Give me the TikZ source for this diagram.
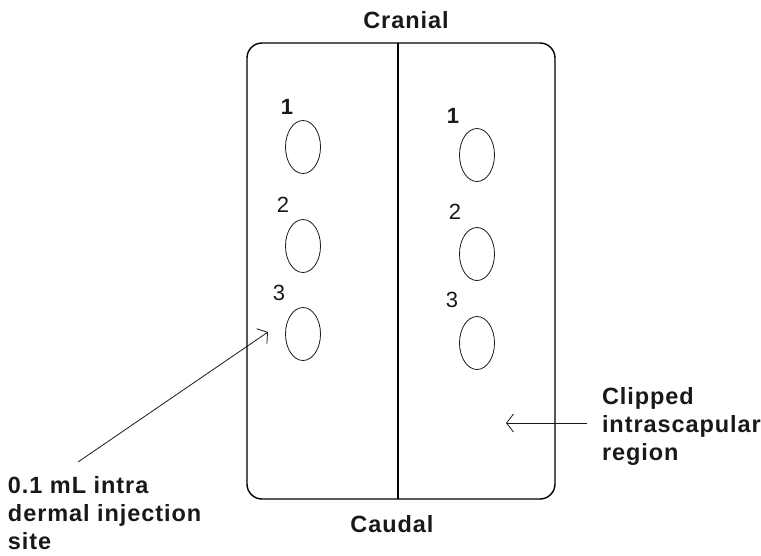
\documentclass[tikz,border=0pt]{standalone}
\usepackage{fontspec}
\setmainfont{Liberation Sans}
\usetikzlibrary{arrows.meta,shapes.geometric}
\begin{document}
\begin{tikzpicture}[x=1pt,y=-1pt,
  every node/.style={inner sep=0pt,outer sep=0pt},
  lbltext/.style={font=\bfseries\addfontfeature{LetterSpace=4}\fontsize{23.5}{28}\selectfont,text=black!90,align=left},
  numtext/.style={font=\fontsize{22}{22}\selectfont,text=black!90},
  numbold/.style={font=\bfseries\fontsize{22}{22}\selectfont,text=black!90},
  site/.style={draw=black!90,line width=0.8pt,ellipse,minimum width=35pt,minimum height=53pt},
  pointer/.style={draw=black!90,line width=0.8pt,-{Straight Barb[length=7pt,width=18pt]}}]
\useasboundingbox (0,0) rectangle (761,555);
% body outline
\draw[line width=1.4pt,rounded corners=15pt] (247,43) rectangle (555,499);
\coordinate (dtop) at (398,43);
\coordinate (dbot) at (398,499);
\draw[line width=1.4pt] (dtop) -- (dbot);
% titles
\node[lbltext,anchor=base] (cran) at (406,28) {Cranial};
\node[lbltext,anchor=base] (caud) at (392,532) {Caudal};
% injection sites
\node[site] (l1) at (303,147) {};
\node[site] (l2) at (303,246) {};
\node[site] (l3) at (303,334) {};
\node[site] (r1) at (477,155) {};
\node[site] (r2) at (477,254) {};
\node[site] (r3) at (477,343) {};
\node[numbold] (n1l) at (287,107) {1};
\node[numtext] (n2l) at (283,205) {2};
\node[numtext] (n3l) at (279,293) {3};
\node[numbold] (n1r) at (453,116) {1};
\node[numtext] (n2r) at (455,212) {2};
\node[numtext] (n3r) at (452,300) {3};
% labels
\node[lbltext,anchor=base west] (inj) at (8,549) {0.1 mL intra\\dermal injection\\site};
\node[lbltext,anchor=base west] (clip) at (602,460) {Clipped\\intrascapular\\region};
\coordinate (injs) at (78,462);
\coordinate (injt) at (268,332);
\draw[pointer] (injs) -- (injt);
\coordinate (clips) at (587,423);
\coordinate (clipt) at (506,423);
\draw[pointer] (clips) -- (clipt);
\end{tikzpicture}
\end{document}
